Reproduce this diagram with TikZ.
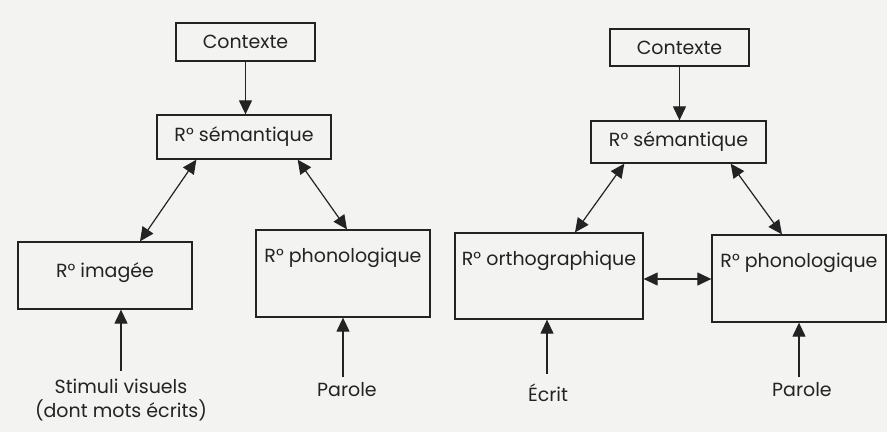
\documentclass[tikz,border=0pt]{standalone}
\usepackage{fontspec}
\setmainfont{Poppins}
\usetikzlibrary{arrows.meta,calc}
\definecolor{bg}{RGB}{243,243,241}
\definecolor{ink}{RGB}{35,35,35}
\begin{document}
\begin{tikzpicture}[x=1pt,y=-1pt,
  box/.style={draw=ink,line width=1.3pt,rectangle,inner sep=0pt,font=\fontsize{19}{22}\selectfont,text=ink},
  lbl/.style={inner sep=2pt,font=\fontsize{19}{24}\selectfont,text=ink,align=center},
  arr/.style={draw=ink,line width=1.2pt,-{Triangle[length=14pt,width=13pt]}},
  darr/.style={draw=ink,line width=1.2pt,{Triangle[length=14pt,width=13pt]}-{Triangle[length=14pt,width=13pt]}}]
\fill[bg] (0,0) rectangle (887,432);
\useasboundingbox (0,0) rectangle (887,432);
% left diagram
\node[box,minimum width=139pt,minimum height=38pt] (ctxL) at (245.5,42) {Contexte};
\node[box,minimum width=174pt,minimum height=44pt] (semL) at (244,137) {R° sémantique};
\node[box,minimum width=174pt,minimum height=67pt,text depth=10pt] (imgL) at (105,275.5) {R° imagée};
\node[box,minimum width=174pt,minimum height=87pt,text depth=36pt] (phonL) at (343,273.5) {R° phonologique};
\node[lbl] (stim) at (121,400) {Stimuli visuels\\(dont mots écrits)};
\node[lbl] (parL) at (347,390) {Parole};
\coordinate (aL1) at ($(semL.south west)+(40,0)$);
\coordinate (bL1) at ($(imgL.north)+(35,0)$);
\coordinate (aL2) at ($(semL.south east)+(-34,0)$);
\coordinate (bL2) at ($(phonL.north)+(4,0)$);
\coordinate (sL) at ($(stim.north)+(0,-6)$);
\coordinate (pL) at ($(parL.north)+(-4,-4)$);
\draw[arr] (ctxL.south) -- (ctxL.south |- semL.north);
\draw[darr] (aL1) -- (bL1);
\draw[darr] (aL2) -- (bL2);
\draw[arr] (sL) -- (sL |- imgL.south);
\draw[arr] (pL) -- (pL |- phonL.south);
% right diagram
\node[box,minimum width=139pt,minimum height=37pt] (ctxR) at (679.5,47.5) {Contexte};
\node[box,minimum width=175pt,minimum height=42pt] (semR) at (678.5,142) {R° sémantique};
\node[box,minimum width=188pt,minimum height=86pt,text depth=36pt] (orthR) at (549,276) {R° orthographique};
\node[box,minimum width=174pt,minimum height=87pt,text depth=36pt] (phonR) at (799,278.5) {R° phonologique};
\node[lbl] (ecrit) at (548,393) {Écrit};
\node[lbl] (parR) at (802,390) {Parole};
\coordinate (aR1) at ($(semR.south west)+(34,0)$);
\coordinate (bR1) at ($(orthR.north)+(26,0)$);
\coordinate (aR2) at ($(semR.south east)+(-36,0)$);
\coordinate (bR2) at ($(phonR.north)+(-17,0)$);
\coordinate (hR) at ($(orthR.east)+(0,3)$);
\coordinate (eR) at ($(ecrit.north)+(-1,-8)$);
\coordinate (pR) at ($(parR.north)+(-3,-4)$);
\draw[arr] (ctxR.south) -- (ctxR.south |- semR.north);
\draw[darr] (aR1) -- (bR1);
\draw[darr] (aR2) -- (bR2);
\draw[darr] (hR) -- (hR -| phonR.west);
\draw[arr] (eR) -- (eR |- orthR.south);
\draw[arr] (pR) -- (pR |- phonR.south);
\end{tikzpicture}
\end{document}
